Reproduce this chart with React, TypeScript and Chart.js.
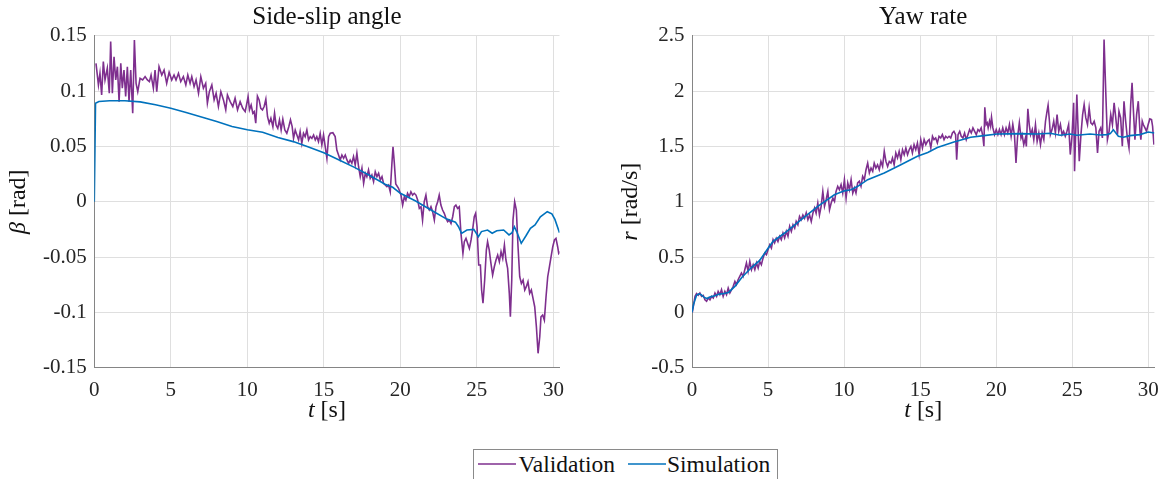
import { useEffect, useRef } from "react";
import { Chart, registerables } from "chart.js";

Chart.register(...registerables);

// ---- series: [time (s), value] ----
const betaValidation: [number, number][] = [
  [0.11, 0.125], [0.27, 0.1055], [0.37, 0.116], [0.48, 0.0965], [0.59, 0.1266], [0.7, 0.11], [0.85, 0.1206],
  [0.98, 0.098], [1.07, 0.1447], [1.18, 0.098], [1.29, 0.131], [1.4, 0.11], [1.51, 0.122], [1.62, 0.0904],
  [1.73, 0.125], [1.83, 0.1025], [1.94, 0.119], [2.05, 0.095], [2.16, 0.122], [2.27, 0.0904], [2.38, 0.119],
  [2.51, 0.08], [2.62, 0.146], [2.73, 0.107], [2.84, 0.0995], [2.99, 0.1115], [3.16, 0.11], [3.32, 0.113],
  [3.47, 0.11], [3.6, 0.1085], [3.71, 0.1145], [3.86, 0.1025], [3.97, 0.119], [4.08, 0.0995], [4.23, 0.122],
  [4.41, 0.1145], [4.56, 0.119], [4.73, 0.107], [4.89, 0.117], [5.06, 0.11], [5.21, 0.1145], [5.34, 0.11],
  [5.5, 0.116], [5.65, 0.1085], [5.82, 0.113], [5.98, 0.1055], [6.11, 0.1145], [6.26, 0.107], [6.37, 0.113],
  [6.52, 0.104], [6.65, 0.11], [6.81, 0.098], [6.96, 0.113], [7.13, 0.1025], [7.28, 0.107], [7.39, 0.089],
  [7.52, 0.0995], [7.68, 0.1055], [7.83, 0.092], [7.96, 0.098], [8.11, 0.086], [8.27, 0.0995], [8.44, 0.092],
  [8.59, 0.083], [8.7, 0.0965], [8.88, 0.0904], [9.05, 0.086], [9.2, 0.0935], [9.36, 0.083], [9.53, 0.0904],
  [9.7, 0.0844], [9.86, 0.0814], [9.97, 0.089], [10.05, 0.095], [10.14, 0.083], [10.25, 0.0874], [10.36, 0.08],
  [10.45, 0.0814], [10.55, 0.0709], [10.66, 0.0955], [10.77, 0.092], [10.88, 0.0844], [10.99, 0.083],
  [11.1, 0.086], [11.21, 0.0926], [11.32, 0.0768], [11.43, 0.0709], [11.54, 0.0754], [11.67, 0.0678],
  [11.78, 0.08], [11.88, 0.0693], [11.99, 0.0663], [12.1, 0.0739], [12.21, 0.0648], [12.32, 0.0745],
  [12.45, 0.0648], [12.58, 0.0618], [12.71, 0.0678], [12.82, 0.0739], [12.93, 0.0678], [13.02, 0.0573],
  [13.13, 0.0648], [13.24, 0.0603], [13.35, 0.0558], [13.45, 0.0633], [13.56, 0.0528], [13.67, 0.0618],
  [13.78, 0.0588], [13.89, 0.0648], [14.0, 0.0558], [14.11, 0.0588], [14.22, 0.0573], [14.33, 0.0603],
  [14.44, 0.0558], [14.54, 0.0588], [14.65, 0.0543], [14.76, 0.0618], [14.87, 0.0513], [14.98, 0.0603],
  [15.09, 0.0497], [15.2, 0.0392], [15.31, 0.0588], [15.42, 0.0618], [15.59, 0.0623], [15.74, 0.0588],
  [15.85, 0.0467], [15.96, 0.0422], [16.07, 0.0377], [16.18, 0.0422], [16.29, 0.0392], [16.4, 0.0422],
  [16.51, 0.0377], [16.62, 0.0347], [16.72, 0.0377], [16.83, 0.0347], [16.94, 0.0407], [17.05, 0.0332],
  [17.16, 0.0437], [17.27, 0.0316], [17.38, 0.0226], [17.49, 0.0302], [17.6, 0.0166], [17.71, 0.0257],
  [17.81, 0.0226], [17.92, 0.0287], [18.03, 0.0211], [18.14, 0.0241], [18.25, 0.0181], [18.36, 0.0271],
  [18.47, 0.0226], [18.58, 0.0257], [18.69, 0.0196], [18.8, 0.0226], [18.9, 0.0166], [19.01, 0.0151],
  [19.12, 0.0136], [19.23, 0.0151], [19.34, 0.009], [19.45, 0.035], [19.52, 0.0497], [19.6, 0.036],
  [19.7, 0.016], [19.88, 0.0121], [20.04, 0.006], [20.15, -0.003], [20.26, 0.0045], [20.36, 0.0015],
  [20.47, 0.0076], [20.58, 0.0045], [20.69, 0.009], [20.8, 0.006], [20.91, 0.0076], [21.02, 0.006],
  [21.13, 0.0015], [21.24, -0.006], [21.35, -0.0045], [21.45, -0.0166], [21.56, 0.0], [21.67, 0.006],
  [21.78, -0.0045], [21.89, -0.0075], [22.0, -0.0045], [22.11, -0.009], [22.22, -0.0166], [22.33, -0.0045],
  [22.44, 0.0], [22.54, 0.006], [22.65, -0.003], [22.76, -0.0075], [22.87, -0.0105], [22.98, -0.015],
  [23.09, -0.018], [23.2, -0.0166], [23.31, -0.0196], [23.42, -0.0136], [23.53, -0.0045], [23.63, -0.003],
  [23.74, -0.006], [23.85, -0.0045], [23.96, -0.0286], [24.09, -0.0467], [24.18, -0.0362], [24.29, -0.0331],
  [24.4, -0.0377], [24.51, -0.0422], [24.62, -0.0346], [24.72, -0.0256], [24.83, -0.0136], [24.92, -0.0105],
  [25.01, -0.0226], [25.12, -0.0572], [25.23, -0.0572], [25.31, -0.0798], [25.4, -0.0918], [25.51, -0.0708],
  [25.62, -0.0437], [25.7, -0.0362], [25.81, -0.0437], [25.92, -0.0557], [26.03, -0.0663], [26.14, -0.0588],
  [26.25, -0.0527], [26.36, -0.0482], [26.47, -0.0542], [26.58, -0.0452], [26.69, -0.0512], [26.8, -0.0392],
  [26.9, -0.0527], [27.01, -0.0602], [27.12, -0.0828], [27.19, -0.104], [27.28, -0.0708], [27.36, -0.0166],
  [27.47, 0.0], [27.58, -0.0075], [27.69, -0.0407], [27.8, -0.0678], [27.91, -0.0738], [28.02, -0.0708],
  [28.13, -0.0798], [28.23, -0.0768], [28.34, -0.0723], [28.45, -0.0828], [28.56, -0.0798], [28.67, -0.0873],
  [28.78, -0.0949], [28.89, -0.113], [29.0, -0.137], [29.11, -0.122], [29.19, -0.104], [29.3, -0.1024],
  [29.41, -0.107], [29.52, -0.0859], [29.63, -0.0678], [29.74, -0.0588], [29.85, -0.0497], [29.96, -0.0407],
  [30.07, -0.0346], [30.17, -0.0331], [30.28, -0.0407], [30.35, -0.0467], [30.46, -0.045],
];

const betaSimulation: [number, number][] = [
  [0, 0], [0.08, 0.089], [0.3, 0.0905], [1, 0.0912], [2, 0.0912], [3, 0.0902], [4, 0.0876], [5, 0.0844],
  [6, 0.0806], [7, 0.0766], [8, 0.0724], [9, 0.068], [10, 0.065], [11, 0.0628], [12, 0.058], [13, 0.0543],
  [14, 0.0495], [15, 0.0443], [16, 0.0377], [17, 0.031], [18, 0.0237], [19, 0.0158], [19.5, 0.013],
  [20, 0.0076], [21, 0.0006], [22, -0.0075], [23, -0.0155], [23.6, -0.0185], [23.8, -0.0226], [24.0, -0.0286],
  [24.35, -0.0256], [24.8, -0.025], [25.1, -0.0316], [25.3, -0.027], [25.7, -0.0256], [26.0, -0.0285],
  [26.3, -0.0262], [26.75, -0.0256], [27.1, -0.03], [27.3, -0.028], [27.45, -0.0226], [27.6, -0.027],
  [27.9, -0.0376], [28.2, -0.031], [28.5, -0.024], [28.8, -0.021], [29.15, -0.0136], [29.6, -0.009],
  [29.9, -0.011], [30.1, -0.016], [30.4, -0.028],
];

const yawValidation: [number, number][] = [
  [0.02, 0], [0.2, 0.145], [0.3, 0.169], [0.41, 0.154], [0.52, 0.175], [0.63, 0.145], [0.74, 0.154],
  [0.85, 0.114], [0.96, 0.1], [1.07, 0.13], [1.18, 0.114], [1.29, 0.145], [1.4, 0.13], [1.51, 0.175],
  [1.62, 0.145], [1.72, 0.19], [1.83, 0.16], [1.94, 0.205], [2.05, 0.145], [2.16, 0.19], [2.27, 0.16],
  [2.38, 0.22], [2.49, 0.175], [2.6, 0.205], [2.71, 0.235], [2.82, 0.28], [2.92, 0.25], [3.03, 0.295],
  [3.14, 0.325], [3.25, 0.355], [3.36, 0.325], [3.47, 0.385], [3.58, 0.446], [3.69, 0.37], [3.8, 0.46],
  [3.91, 0.385], [4.02, 0.43], [4.13, 0.385], [4.24, 0.446], [4.35, 0.4], [4.45, 0.46], [4.56, 0.43],
  [4.67, 0.49], [4.78, 0.536], [4.89, 0.52], [5.0, 0.566], [5.11, 0.61], [5.22, 0.58], [5.33, 0.657],
  [5.43, 0.627], [5.54, 0.67], [5.65, 0.64], [5.76, 0.687], [5.87, 0.657], [5.98, 0.717], [6.09, 0.672],
  [6.2, 0.732], [6.31, 0.687], [6.42, 0.777], [6.53, 0.732], [6.64, 0.792], [6.75, 0.762], [6.85, 0.822],
  [6.96, 0.792], [7.07, 0.867], [7.18, 0.837], [7.29, 0.88], [7.4, 0.85], [7.51, 0.9], [7.62, 0.837],
  [7.73, 0.88], [7.84, 0.822], [7.95, 0.897], [8.06, 0.943], [8.16, 0.897], [8.27, 0.988], [8.38, 0.88],
  [8.49, 0.958], [8.6, 1.093], [8.71, 0.958], [8.82, 1.018], [8.93, 1.093], [9.04, 0.928], [9.15, 0.988],
  [9.26, 1.033], [9.37, 1.003], [9.47, 1.093], [9.58, 1.139], [9.69, 1.108], [9.8, 1.154], [9.91, 1.078],
  [10.02, 1.199], [10.13, 1.033], [10.24, 1.169], [10.35, 1.108], [10.46, 1.199], [10.57, 1.078],
  [10.68, 1.124], [10.78, 1.078], [10.89, 1.169], [11.0, 1.184], [11.11, 1.139], [11.22, 1.229],
  [11.33, 1.199], [11.44, 1.289], [11.55, 1.349], [11.66, 1.259], [11.77, 1.304], [11.88, 1.274],
  [11.98, 1.349], [12.09, 1.304], [12.2, 1.334], [12.31, 1.289], [12.42, 1.364], [12.53, 1.319],
  [12.64, 1.455], [12.75, 1.364], [12.86, 1.319], [12.97, 1.364], [13.08, 1.349], [13.18, 1.395],
  [13.29, 1.334], [13.4, 1.44], [13.51, 1.395], [13.62, 1.455], [13.73, 1.38], [13.84, 1.47], [13.95, 1.425],
  [14.06, 1.485], [14.17, 1.425], [14.28, 1.47], [14.39, 1.5], [14.49, 1.44], [14.6, 1.515], [14.71, 1.47],
  [14.82, 1.53], [14.93, 1.426], [15.04, 1.561], [15.15, 1.486], [15.26, 1.561], [15.37, 1.516],
  [15.48, 1.546], [15.59, 1.561], [15.7, 1.486], [15.81, 1.591], [15.91, 1.561], [16.02, 1.576],
  [16.13, 1.531], [16.24, 1.591], [16.35, 1.576], [16.46, 1.606], [16.57, 1.561], [16.68, 1.591],
  [16.79, 1.576], [16.9, 1.591], [17.01, 1.576], [17.12, 1.621], [17.22, 1.636], [17.33, 1.606], [17.4, 1.38],
  [17.49, 1.606], [17.6, 1.636], [17.7, 1.591], [17.81, 1.576], [17.92, 1.621], [18.03, 1.561], [18.14, 1.606],
  [18.25, 1.652], [18.36, 1.621], [18.47, 1.667], [18.58, 1.636], [18.69, 1.606], [18.8, 1.652], [18.9, 1.636],
  [19.01, 1.667], [19.12, 1.591], [19.19, 1.501], [19.25, 1.853], [19.34, 1.697], [19.41, 1.712],
  [19.47, 1.667], [19.56, 1.727], [19.63, 1.682], [19.69, 1.763], [19.78, 1.667], [19.89, 1.606], [20.0, 1.652],
  [20.11, 1.606], [20.21, 1.652], [20.32, 1.606], [20.43, 1.667], [20.54, 1.606], [20.65, 1.667],
  [20.76, 1.621], [20.87, 1.697], [20.98, 1.591], [21.09, 1.7], [21.2, 1.6], [21.3, 1.35], [21.4, 1.58],
  [21.52, 1.712], [21.63, 1.576], [21.7, 1.606], [21.81, 1.516], [21.92, 1.576], [21.98, 1.5], [22.08, 1.84],
  [22.17, 1.697], [22.26, 1.606], [22.37, 1.652], [22.47, 1.561], [22.58, 1.697], [22.69, 1.546], [22.8, 1.621],
  [22.91, 1.516], [23.02, 1.621], [23.13, 1.561], [23.24, 1.727], [23.34, 1.817], [23.41, 1.872],
  [23.5, 1.727], [23.56, 1.606], [23.67, 1.652], [23.78, 1.727], [23.89, 1.621], [24.0, 1.787], [24.11, 1.636],
  [24.22, 1.697], [24.33, 1.606], [24.43, 1.636], [24.54, 1.591], [24.65, 1.636], [24.76, 1.697],
  [24.87, 1.426], [24.98, 1.591], [25.09, 1.893], [25.15, 1.275], [25.24, 1.697], [25.3, 1.968],
  [25.37, 1.697], [25.46, 1.365], [25.57, 1.606], [25.68, 1.787], [25.78, 1.878], [25.89, 1.757], [26.0, 1.697],
  [26.11, 1.848], [26.22, 1.712], [26.33, 1.697], [26.44, 1.727], [26.55, 1.667], [26.66, 1.441],
  [26.76, 1.636], [26.87, 1.667], [26.98, 1.576], [27.09, 2.465], [27.2, 1.998], [27.31, 1.561], [27.42, 1.636],
  [27.53, 1.787], [27.64, 1.697], [27.75, 1.893], [27.86, 1.757], [27.97, 1.606], [28.07, 1.817],
  [28.18, 1.757], [28.29, 1.501], [28.4, 1.908], [28.51, 1.727], [28.62, 1.576], [28.73, 1.486],
  [28.84, 1.878], [28.93, 2.074], [29.01, 1.848], [29.12, 1.561], [29.23, 1.787], [29.34, 1.908],
  [29.45, 1.636], [29.51, 1.561], [29.6, 1.727], [29.67, 1.697], [29.78, 1.667], [29.88, 1.636],
  [29.99, 1.697], [30.1, 1.748], [30.21, 1.742], [30.28, 1.682], [30.37, 1.516],
];

const yawSimulation: [number, number][] = [
  [0, 0], [0.1, 0.07], [0.2, 0.114], [0.3, 0.155], [0.45, 0.168], [0.6, 0.16], [0.8, 0.135], [1.0, 0.125],
  [1.2, 0.14], [1.5, 0.15], [1.8, 0.165], [2.1, 0.17], [2.4, 0.18], [2.82, 0.235], [3.3, 0.32], [3.91, 0.405],
  [4.45, 0.47], [5.0, 0.58], [5.33, 0.642], [6.09, 0.717], [7.18, 0.837], [8.27, 0.958], [9.36, 1.063],
  [10.02, 1.098], [10.46, 1.108], [10.9, 1.139], [11.55, 1.199], [12.64, 1.259], [13.73, 1.334], [14.82, 1.41],
  [15.5, 1.445], [16.13, 1.49], [17.22, 1.54], [18.32, 1.582], [19.19, 1.597], [20.06, 1.612], [21.6, 1.615],
  [22.7, 1.612], [23.56, 1.618], [24.2, 1.6], [24.86, 1.612], [25.3, 1.6], [26.17, 1.612], [26.83, 1.603],
  [27.27, 1.606], [27.5, 1.615], [27.7, 1.65], [28.03, 1.591], [28.36, 1.582], [28.79, 1.597], [29.45, 1.606],
  [29.99, 1.63], [30.4, 1.62],
];

// ---- axes ----
const T_MAX = 30.4;
const T_TICKS = [0, 5, 10, 15, 20, 25, 30];
const T_TICK_LABELS = ["0", "5", "10", "15", "20", "25", "30"];
const BETA_TICKS = [-0.15, -0.1, -0.05, 0, 0.05, 0.1, 0.15];
const BETA_TICK_LABELS = ["-0.15", "-0.1", "-0.05", "0", "0.05", "0.1", "0.15"];
const YAW_TICKS = [-0.5, 0, 0.5, 1, 1.5, 2, 2.5];
const YAW_TICK_LABELS = ["-0.5", "0", "0.5", "1", "1.5", "2", "2.5"];

const SERIES_NAMES = ["Validation", "Simulation"];

const VALIDATION_COLOR = "#7e2f8e";
const SIMULATION_COLOR = "#0072bd";
const GRID_COLOR = "#dfdfdf";
const AXIS_COLOR = "#858585";
const TICK_COLOR = "#262626";
const TEXT_COLOR = "#111111";
const SERIF = '"Liberation Serif", "Times New Roman", serif';
const LINE_WIDTH = 1.6;

type Piece = { text: string; italic?: boolean };

function drawPieces(ctx: CanvasRenderingContext2D, pieces: Piece[], cx: number, cy: number, size: number) {
  const fonts = pieces.map((p) => `${p.italic ? "italic " : ""}${size}px ${SERIF}`);
  const widths = pieces.map((p, i) => {
    ctx.font = fonts[i];
    return ctx.measureText(p.text).width;
  });
  let x = cx - widths.reduce((a, b) => a + b, 0) / 2;
  ctx.textAlign = "left";
  pieces.forEach((p, i) => {
    ctx.font = fonts[i];
    ctx.fillText(p.text, x, cy);
    x += widths[i];
  });
}

// Draws the panel title and the mixed italic/upright axis titles.
const panelText = {
  id: "panelText",
  afterDraw(chart: any, _args: any, opts: any) {
    const { ctx, chartArea } = chart;
    const cx = (chartArea.left + chartArea.right) / 2;
    const cy = (chartArea.top + chartArea.bottom) / 2;
    ctx.save();
    ctx.fillStyle = TEXT_COLOR;
    ctx.textBaseline = "middle";
    ctx.font = `${opts.titleSize}px ${SERIF}`;
    ctx.textAlign = "center";
    ctx.fillText(opts.title, cx, opts.titleY);
    drawPieces(ctx, opts.xLabel, cx, opts.xLabelY, opts.labelSize);
    ctx.translate(opts.yLabelX, cy);
    ctx.rotate(-Math.PI / 2);
    drawPieces(ctx, opts.yLabel, 0, 0, opts.labelSize);
    ctx.restore();
  },
};

type PanelProps = {
  left: number;
  width: number;
  yAxisWidth: number;
  rightPad: number;
  title: string;
  yLabel: Piece[];
  yLabelX: number;
  validation: [number, number][];
  simulation: [number, number][];
  yTicks: number[];
  yTickLabels: string[];
};

const CANVAS_H = 440;
const PLOT_TOP = 35.7;
const PLOT_BOTTOM = 367.7;
const X_AXIS_H = 60;

function Panel(p: PanelProps) {
  const ref = useRef<HTMLCanvasElement>(null);
  useEffect(() => {
    if (!ref.current) return;
    const yMin = p.yTicks[0];
    const yMax = p.yTicks[p.yTicks.length - 1];
    const chart = new Chart(ref.current, {
      type: "line",
      data: {
        datasets: [
          {
            label: SERIES_NAMES[0],
            data: p.validation.map(([x, y]) => ({ x, y })),
            borderColor: VALIDATION_COLOR,
            borderWidth: LINE_WIDTH,
            pointRadius: 0,
            tension: 0,
            order: 2,
          },
          {
            label: SERIES_NAMES[1],
            data: p.simulation.map(([x, y]) => ({ x, y })),
            borderColor: SIMULATION_COLOR,
            borderWidth: LINE_WIDTH,
            pointRadius: 0,
            tension: 0,
            order: 1,
          },
        ],
      },
      options: {
        animation: false,
        responsive: false,
        devicePixelRatio: 1,
        layout: {
          padding: {
            left: 0,
            right: p.rightPad,
            top: PLOT_TOP,
            bottom: CANVAS_H - PLOT_BOTTOM - X_AXIS_H,
          },
        },
        plugins: {
          legend: { display: false },
          tooltip: { enabled: false },
          title: { display: false },
          panelText: {
            title: p.title,
            titleY: 17,
            titleSize: 25,
            labelSize: 24,
            xLabel: [{ text: "t", italic: true }, { text: " [s]" }],
            xLabelY: 411,
            yLabel: p.yLabel,
            yLabelX: p.yLabelX,
          },
        } as any,
        scales: {
          x: {
            type: "linear",
            min: 0,
            max: T_MAX,
            afterBuildTicks: (s: any) => {
              s.ticks = T_TICKS.map((value) => ({ value }));
            },
            afterFit: (s: any) => {
              s.height = X_AXIS_H;
            },
            grid: { color: GRID_COLOR, lineWidth: 1, drawTicks: false },
            border: { color: AXIS_COLOR, width: 1 },
            ticks: {
              color: TICK_COLOR,
              font: { family: SERIF, size: 21 },
              padding: 10,
              maxRotation: 0,
              autoSkip: false,
              callback: (v: any) => T_TICK_LABELS[T_TICKS.indexOf(Number(v))] ?? "",
            },
          },
          y: {
            type: "linear",
            min: yMin,
            max: yMax,
            afterBuildTicks: (s: any) => {
              s.ticks = p.yTicks.map((value) => ({ value }));
            },
            afterFit: (s: any) => {
              s.width = p.yAxisWidth;
            },
            grid: { color: GRID_COLOR, lineWidth: 1, drawTicks: false },
            border: { color: AXIS_COLOR, width: 1 },
            ticks: {
              color: TICK_COLOR,
              font: { family: SERIF, size: 21 },
              padding: 7.5,
              autoSkip: false,
              callback: (v: any) => {
                const i = p.yTicks.findIndex((t) => Math.abs(t - Number(v)) < 1e-9);
                return i >= 0 ? p.yTickLabels[i] : "";
              },
            },
          },
        },
      },
      plugins: [panelText as any],
    });
    return () => chart.destroy();
  }, []);
  return (
    <canvas
      ref={ref}
      width={p.width}
      height={CANVAS_H}
      style={{ position: "absolute", left: p.left, top: 0, width: p.width, height: CANVAS_H }}
    />
  );
}

function LegendBox() {
  const text = {
    position: "absolute" as const,
    top: -1,
    height: 30,
    lineHeight: "30px",
    fontFamily: SERIF,
    fontSize: 23.5,
    color: TEXT_COLOR,
    whiteSpace: "nowrap" as const,
  };
  return (
    <div
      style={{
        position: "absolute",
        left: 473,
        top: 449,
        width: 305,
        height: 33,
        boxSizing: "border-box",
        border: "1px solid #8a8a8a",
        background: "#fff",
      }}
    >
      <svg width={303} height={30} style={{ position: "absolute", left: 0, top: 0 }}>
        <line x1={4} x2={42} y1={14} y2={14} stroke={VALIDATION_COLOR} strokeWidth={LINE_WIDTH} />
        <line x1={154} x2={192} y1={14} y2={14} stroke={SIMULATION_COLOR} strokeWidth={LINE_WIDTH} />
      </svg>
      <div style={{ ...text, left: 44.5 }}>{SERIES_NAMES[0]}</div>
      <div style={{ ...text, left: 193 }}>{SERIES_NAMES[1]}</div>
    </div>
  );
}

export default function App() {
  return (
    <div
      style={{
        position: "absolute",
        left: 0,
        top: 0,
        width: 1169,
        height: 479,
        background: "#ffffff",
        overflow: "hidden",
      }}
    >
      <Panel
        left={0}
        width={585}
        yAxisWidth={94.3}
        rightPad={25.5}
        title="Side-slip angle"
        yLabel={[{ text: "β", italic: true }, { text: " [rad]" }]}
        yLabelX={19}
        validation={betaValidation}
        simulation={betaSimulation}
        yTicks={BETA_TICKS}
        yTickLabels={BETA_TICK_LABELS}
      />
      <Panel
        left={585}
        width={584}
        yAxisWidth={107}
        rightPad={13}
        title="Yaw rate"
        yLabel={[{ text: "r", italic: true }, { text: " [rad/s]" }]}
        yLabelX={46}
        validation={yawValidation}
        simulation={yawSimulation}
        yTicks={YAW_TICKS}
        yTickLabels={YAW_TICK_LABELS}
      />
      <LegendBox />
    </div>
  );
}
